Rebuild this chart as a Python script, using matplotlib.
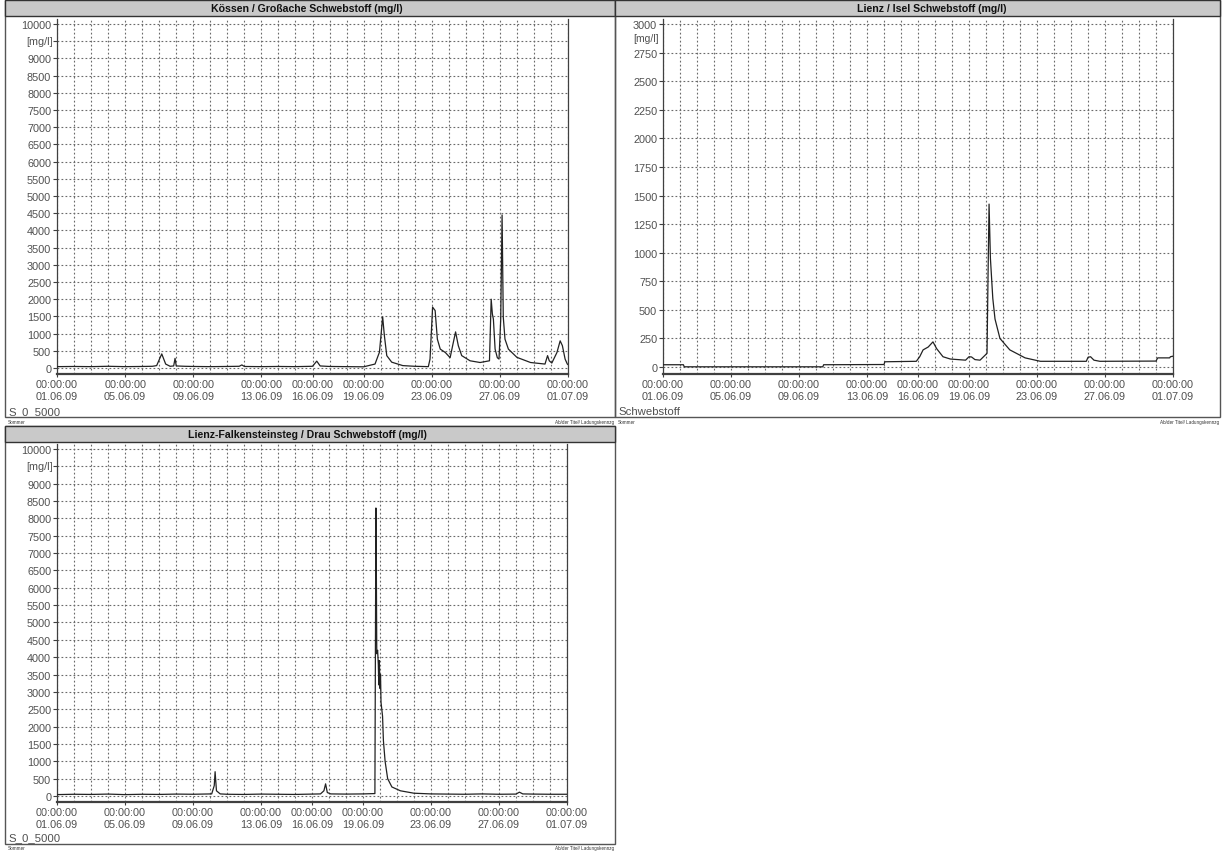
import matplotlib
matplotlib.use('Agg')
import matplotlib.pyplot as plt
from matplotlib.patches import Rectangle
from matplotlib.ticker import FixedLocator
import matplotlib.transforms as mtransforms

plt.rcParams['font.family'] = ['Liberation Sans', 'DejaVu Sans']

# ---------------- data ----------------
titles = ["Kössen / Großache Schwebstoff (mg/l)",
          "Lienz / Isel Schwebstoff (mg/l)",
          "Lienz-Falkensteinsteg / Drau Schwebstoff (mg/l)"]

x_tick_days = [0, 4, 8, 12, 15, 18, 22, 26, 30]
x_tick_labels = ["00:00:00\n01.06.09", "00:00:00\n05.06.09", "00:00:00\n09.06.09",
                 "00:00:00\n13.06.09", "00:00:00\n16.06.09", "00:00:00\n19.06.09",
                 "00:00:00\n23.06.09", "00:00:00\n27.06.09", "00:00:00\n01.07.09"]

# Kössen / Großache (days since 01.06.09 00:00, mg/l)
koessen_days = [0, 1, 2, 3, 4, 5, 5.6, 5.85, 6.15, 6.38, 6.64, 6.85, 6.93, 7.0, 7.5, 8, 9, 10,
                10.7, 10.85, 11.0, 12, 13, 14, 15.0, 15.25, 15.45, 16, 17, 18, 18.67, 18.93,
                19.12, 19.22, 19.36, 19.65, 20.3, 21.0, 21.8, 21.9, 22.05, 22.2, 22.33, 22.5,
                22.8, 23.08, 23.27, 23.4, 23.56, 23.76, 24.25, 24.84, 25.39, 25.49, 25.56,
                25.62, 25.72, 25.85, 25.95, 26.05, 26.13, 26.17, 26.2, 26.3, 26.5, 27.0, 27.8,
                28.65, 28.8, 28.9, 29.05, 29.35, 29.54, 29.67, 29.83, 29.96, 30]
koessen_vals = [40, 45, 40, 50, 40, 45, 50, 70, 410, 115, 50, 60, 280, 60, 50, 45, 40, 45,
                50, 90, 45, 40, 45, 40, 50, 200, 60, 45, 40, 35, 115, 460,
                1480, 940, 360, 170, 70, 50, 40, 260, 1770, 1670, 840, 550,
                450, 300, 750, 1050, 650, 360, 210, 160, 210, 2000, 1570,
                1420, 550, 300, 260, 1420, 4450, 2730, 1480, 840, 550, 310, 160,
                115, 360, 210, 145, 450, 790, 650, 260, 115, 100]

# Lienz / Isel
isel_days = [0, 1.2, 1.25, 9.4, 9.45, 13.0, 13.05, 14.9, 15.1, 15.3, 15.6, 15.88, 16.1,
             16.47, 16.9, 17.8, 18.0, 18.15, 18.35, 18.65, 19.06, 19.12, 19.18, 19.26,
             19.4, 19.53, 19.82, 20.4, 21.3, 22.2, 24.9, 25.0, 25.15, 25.35, 25.7, 29.0,
             29.1, 29.8, 29.85, 30]
isel_vals = [20, 20, 2, 2, 20, 22, 46, 50, 90, 150, 175, 220, 160,
             90, 70, 60, 90, 88, 65, 60, 120, 800, 1425, 950,
             600, 420, 250, 150, 80, 50, 50, 85, 90, 60, 50, 52,
             80, 80, 90, 95]

# Lienz-Falkensteinsteg / Drau
drau_days = [0, 1, 2, 3, 4, 5, 6, 7, 8, 9.1, 9.25, 9.3, 9.38, 9.6, 10, 11, 12, 13, 14,
             15.5, 15.7, 15.8, 15.9, 16.1, 17, 18, 18.7, 18.76, 18.78, 18.81, 18.86, 18.9,
             18.93, 18.96, 19.0, 19.03, 19.06, 19.15, 19.2, 19.3, 19.45, 19.7, 20.2, 21, 22,
             23, 24, 25, 26, 27, 27.2, 27.4, 28, 29, 30]
drau_vals = [40, 50, 45, 55, 40, 50, 45, 55, 50, 60, 300, 700, 150, 60, 50, 45, 55, 50, 45,
             60, 150, 350, 100, 60, 55, 60, 70, 8300, 7000, 4100, 4200, 3800,
             3200, 3900, 3100, 3500, 2700, 2300, 1600, 1000, 500, 260, 150, 80, 60,
             55, 50, 60, 50, 55, 110, 60, 55, 50, 50]

big_yticks = list(range(0, 10001, 500))
big_ylabels = [str(v) if v != 9500 else "" for v in big_yticks]
isel_yticks = list(range(0, 3001, 250))
isel_ylabels = [str(v) for v in isel_yticks]
unit_label = "[mg/l]"
bottom_labels = ["S_0_5000", "Schwebstoff", "S_0_5000"]
footer_left = "Sommer"
footer_right = "Ab/der Titel/ Ladungskennzg"

# ---------------- layout ----------------
W, H = 1222, 854
fig = plt.figure(figsize=(W / 100, H / 100), dpi=100)
fig.patch.set_facecolor('white')


def rect(x0, y0, x1, y1):
    return [x0 / W, 1 - y1 / H, (x1 - x0) / W, (y1 - y0) / H]


bg = fig.add_axes([0, 0, 1, 1], zorder=0)
bg.set_xlim(0, W)
bg.set_ylim(H, 0)
bg.axis('off')


def panel(x0, y0, x1, y1, title, tx, blabel, by, fy):
    bg.add_patch(Rectangle((x0, y0), x1 - x0, y1 - y0, fill=False, ec='#555555', lw=1))
    bg.add_patch(Rectangle((x0, y0), x1 - x0, 16, fc='#c9c9c9', ec='#333333', lw=1))
    bg.text(tx, y0 + 8.5, title, ha='center', va='center', fontsize=7.6,
            fontweight='bold', color='#111111')
    bg.text(x0 + 3, by, blabel, ha='left', va='center', fontsize=8.2, color='#505050')
    bg.text(x0 + 3, fy, footer_left, ha='left', va='center', fontsize=3.3, color='#333333')
    bg.text(x1 - 1, fy, footer_right, ha='right', va='center', fontsize=3.3, color='#333333')


panel(5, 1, 615, 418, titles[0], 307, bottom_labels[0], 412, 423)
panel(615, 1, 1220, 418, titles[1], 932, bottom_labels[1], 412, 423)
panel(5, 427, 615, 845, titles[2], 307, bottom_labels[2], 838, 849)


def make_ax(box, days, vals, ylim, yticks, ylabels, unit_y, unit_size):
    ax = fig.add_axes(rect(*box), zorder=2)
    ax.plot(days, vals, color='#222222', lw=0.9, zorder=3)
    ax.set_xlim(0, 30)
    ax.set_ylim(*ylim)
    ax.set_xticks(x_tick_days)
    ax.set_xticklabels(x_tick_labels, linespacing=1.25)
    ax.xaxis.set_minor_locator(FixedLocator(list(range(31))))
    ax.set_yticks(yticks)
    ax.set_yticklabels(ylabels)
    gkw = dict(ls=(0, (1.6, 2.0)), color='#6a6a6a', lw=0.8)
    ax.grid(True, axis='x', which='both', **gkw)
    ax.grid(True, axis='y', which='major', **gkw)
    ax.tick_params(axis='x', which='minor', length=0)
    ax.tick_params(axis='both', which='major', labelsize=7.8, labelcolor='#505050',
                   color='#404040', length=3, width=0.8, pad=1.2)
    ax.tick_params(axis='x', which='major', length=2, pad=1.5)
    ax.spines['top'].set_visible(False)
    for s in ['left', 'right', 'bottom']:
        ax.spines[s].set_color('#404040')
        ax.spines[s].set_linewidth(0.9)
    ax.spines['bottom'].set_linewidth(1.6)
    tr = mtransforms.offset_copy(ax.get_yaxis_transform(), fig=fig, x=-4.5, y=0, units='dots')
    ax.text(0, unit_y, unit_label, transform=tr, ha='right', va='center',
            fontsize=unit_size, color='#505050')
    return ax


make_ax((57, 20, 568, 375), koessen_days, koessen_vals, (-174, 10145),
        big_yticks, big_ylabels, 9500, 7.8)
make_ax((663, 20, 1173, 375), isel_days, isel_vals, (-61, 3044),
        isel_yticks, isel_ylabels, 2880, 7.4)
make_ax((57, 445, 567, 803), drau_days, drau_vals, (-173, 10144),
        big_yticks, big_ylabels, 9500, 7.8)

fig.savefig('out.png', dpi=100, facecolor='white')
